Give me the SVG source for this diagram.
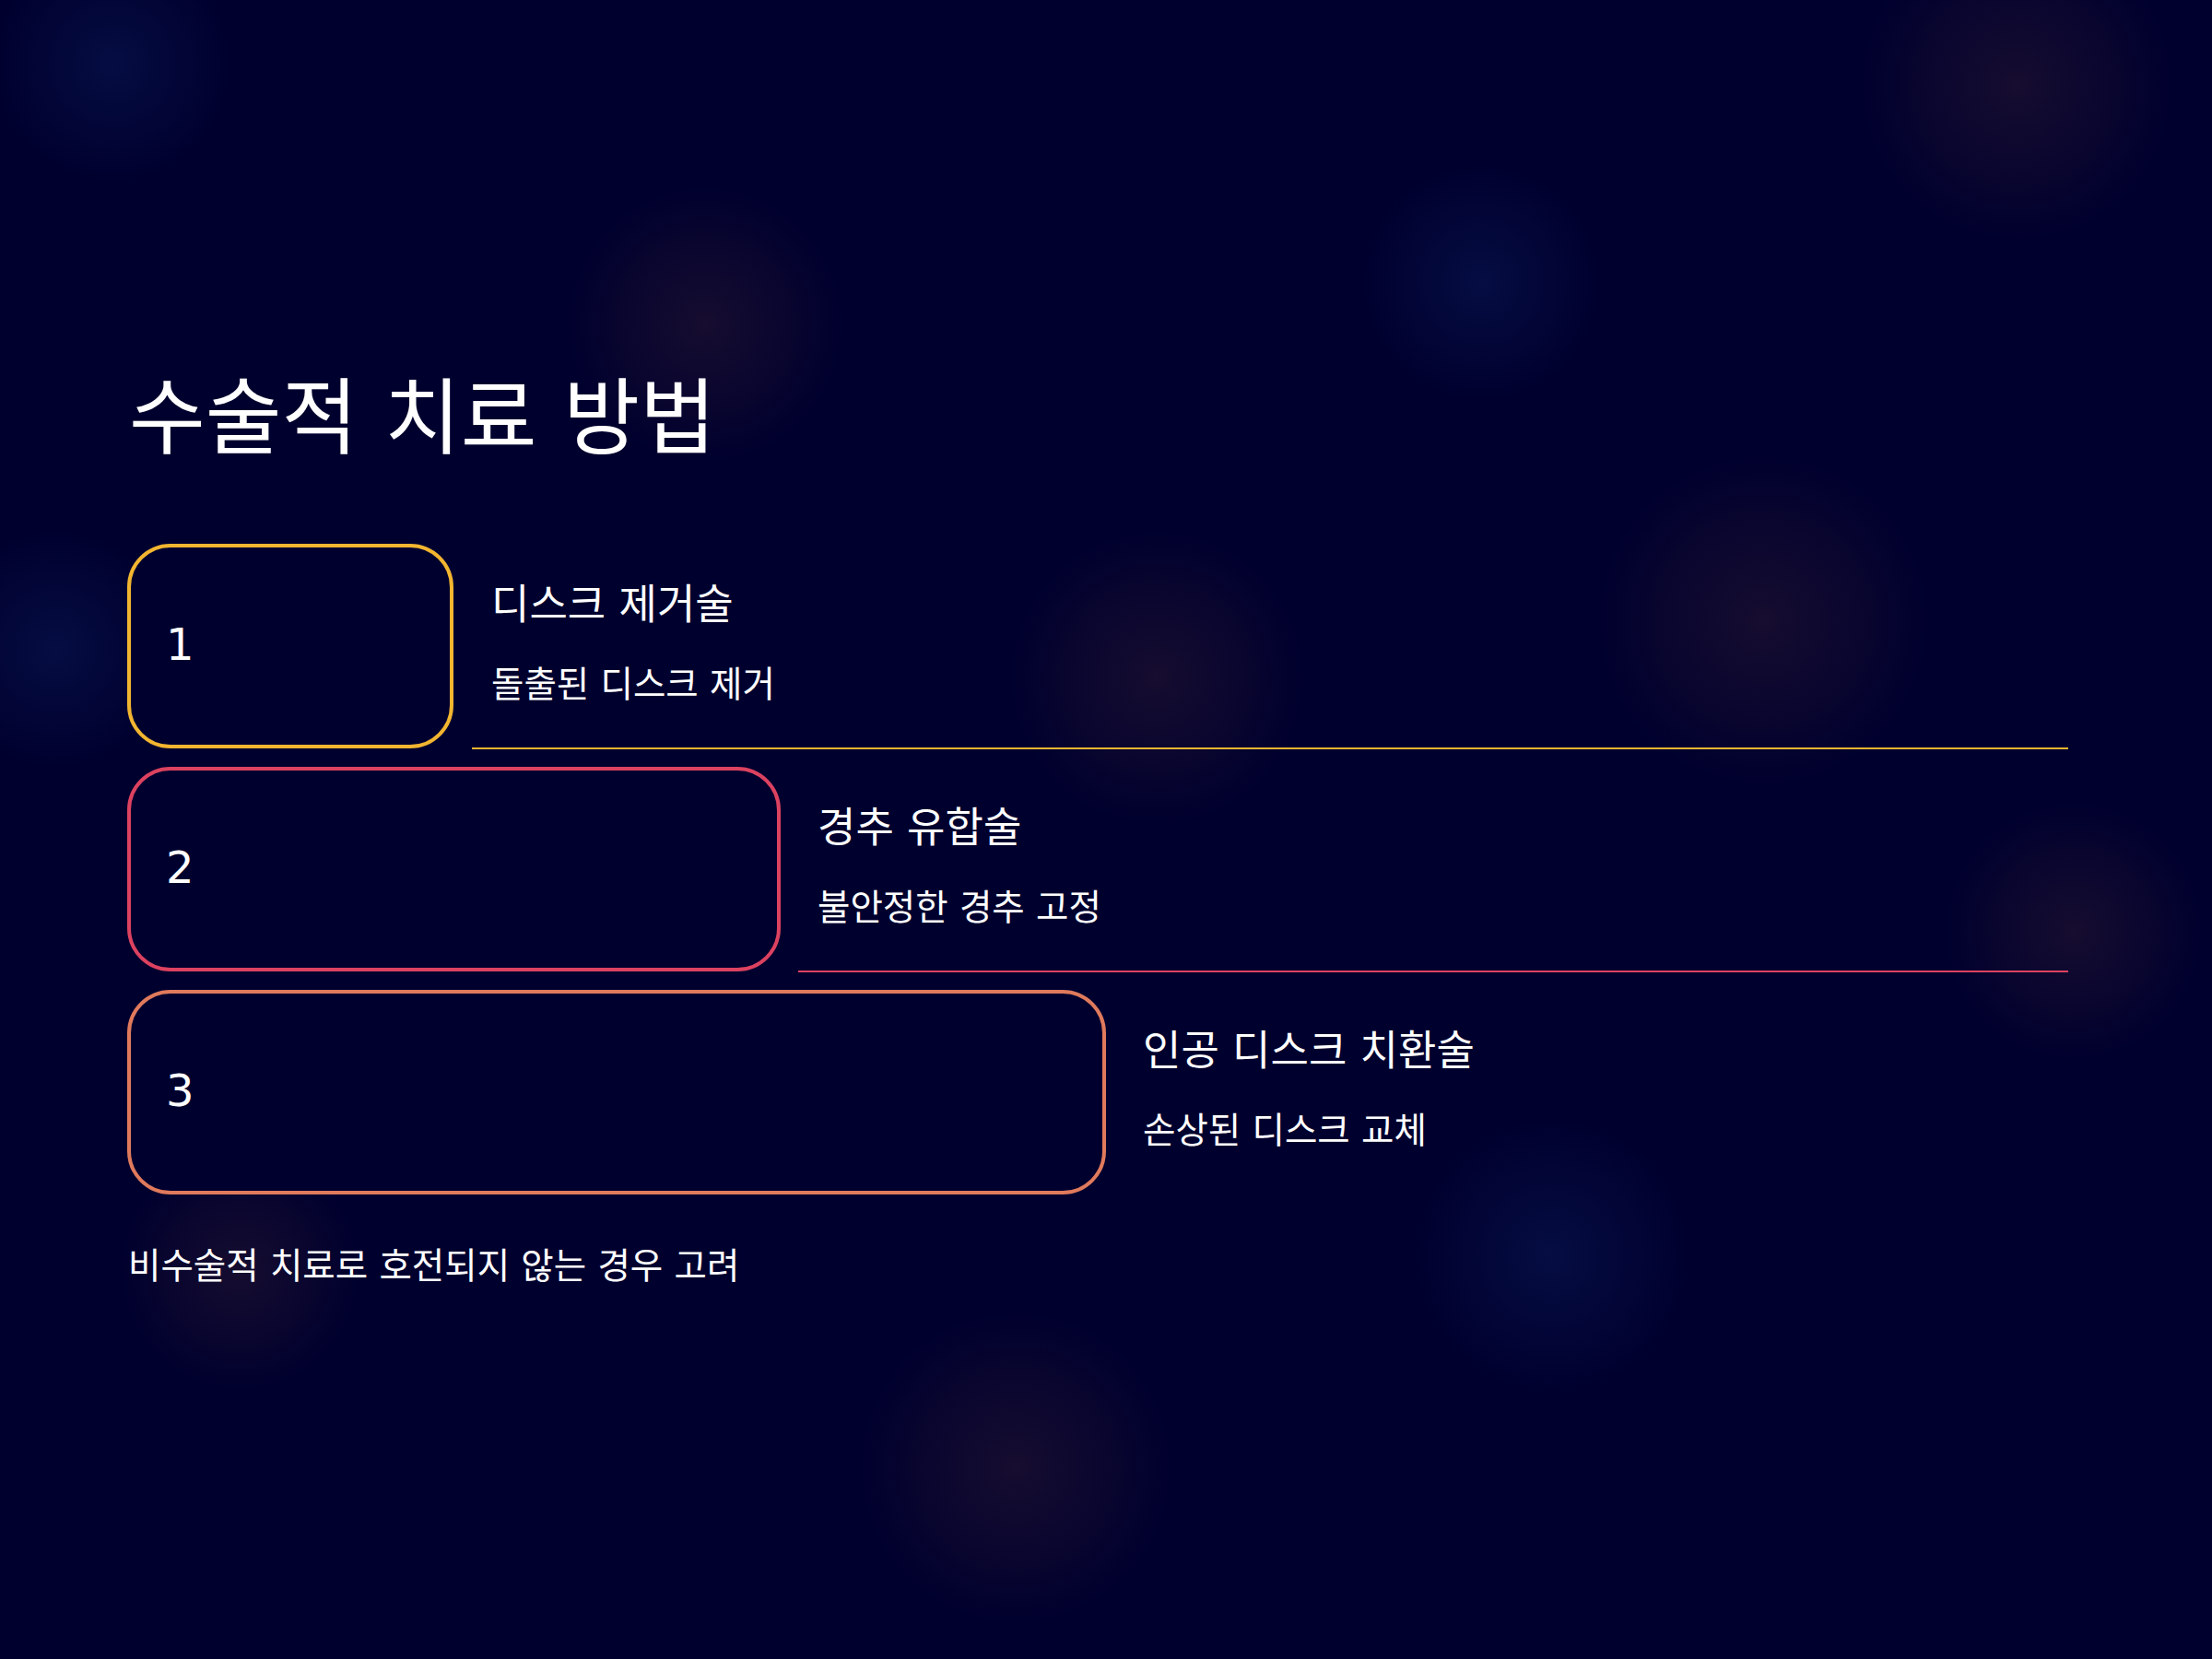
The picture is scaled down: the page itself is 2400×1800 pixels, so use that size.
<svg xmlns="http://www.w3.org/2000/svg" width="2400" height="1800" viewBox="0 0 2400 1800">
  <defs>
    <radialGradient id="gBlue">
      <stop offset="0" stop-color="#0c2060" stop-opacity="0.4"/>
      <stop offset="1" stop-color="#0c2060" stop-opacity="0"/>
    </radialGradient>
    <radialGradient id="gWarm">
      <stop offset="0" stop-color="#3a2232" stop-opacity="0.38"/>
      <stop offset="1" stop-color="#3a2232" stop-opacity="0"/>
    </radialGradient>
    <style>
      text { font-family: "DejaVu Sans", "Noto Sans CJK KR", sans-serif; fill: #ffffff; }
      .title { font-size: 90px; }
      .num { font-size: 48px; }
      .head { font-size: 45px; }
      .sub { font-size: 38.5px; }
      .box { fill: #00002e; stroke-width: 4; }
    </style>
  </defs>
  <rect width="2400" height="1800" fill="#00002e"/>
  <g id="glows">
    <circle cx="122" cy="69" r="130" fill="url(#gBlue)"/>
    <circle cx="61" cy="704" r="130" fill="url(#gBlue)"/>
    <circle cx="1607" cy="306" r="130" fill="url(#gBlue)"/>
    <circle cx="1684" cy="1362" r="150" fill="url(#gBlue)"/>
    <circle cx="2188" cy="92" r="170" fill="url(#gWarm)"/>
    <circle cx="765" cy="352" r="150" fill="url(#gWarm)"/>
    <circle cx="1255" cy="735" r="160" fill="url(#gWarm)"/>
    <circle cx="1913" cy="673" r="180" fill="url(#gWarm)"/>
    <circle cx="2250" cy="1010" r="140" fill="url(#gWarm)"/>
    <circle cx="1102" cy="1592" r="170" fill="url(#gWarm)"/>
    <circle cx="260" cy="1378" r="130" fill="url(#gWarm)"/>
  </g>
  <text id="title" class="title" x="140" y="485">수술적 치료 방법</text>
  <g id="connectors">
    <line x1="512" y1="812" x2="2244" y2="812" stroke="#f2b530" stroke-width="2"/>
    <line x1="866" y1="1054" x2="2244" y2="1054" stroke="#dc4260" stroke-width="2"/>
  </g>
  <g id="node1">
    <rect class="box" x="140" y="592" width="350" height="218" rx="45" stroke="#f2b530"/>
    <text class="num" x="180" y="716">1</text>
    <text class="head" x="533" y="672">디스크 제거술</text>
    <text class="sub" x="533" y="756">돌출된 디스크 제거</text>
  </g>
  <g id="node2">
    <rect class="box" x="140" y="834" width="705" height="218" rx="45" stroke="#dc4260"/>
    <text class="num" x="180" y="958">2</text>
    <text class="head" x="887" y="914">경추 유합술</text>
    <text class="sub" x="887" y="998">불안정한 경추 고정</text>
  </g>
  <g id="node3">
    <rect class="box" x="140" y="1076" width="1058" height="218" rx="45" stroke="#e07a5c"/>
    <text class="num" x="180" y="1200">3</text>
    <text class="head" x="1240" y="1156">인공 디스크 치환술</text>
    <text class="sub" x="1240" y="1240">손상된 디스크 교체</text>
  </g>
  <text id="note" class="sub" x="139" y="1387">비수술적 치료로 호전되지 않는 경우 고려</text>
</svg>
